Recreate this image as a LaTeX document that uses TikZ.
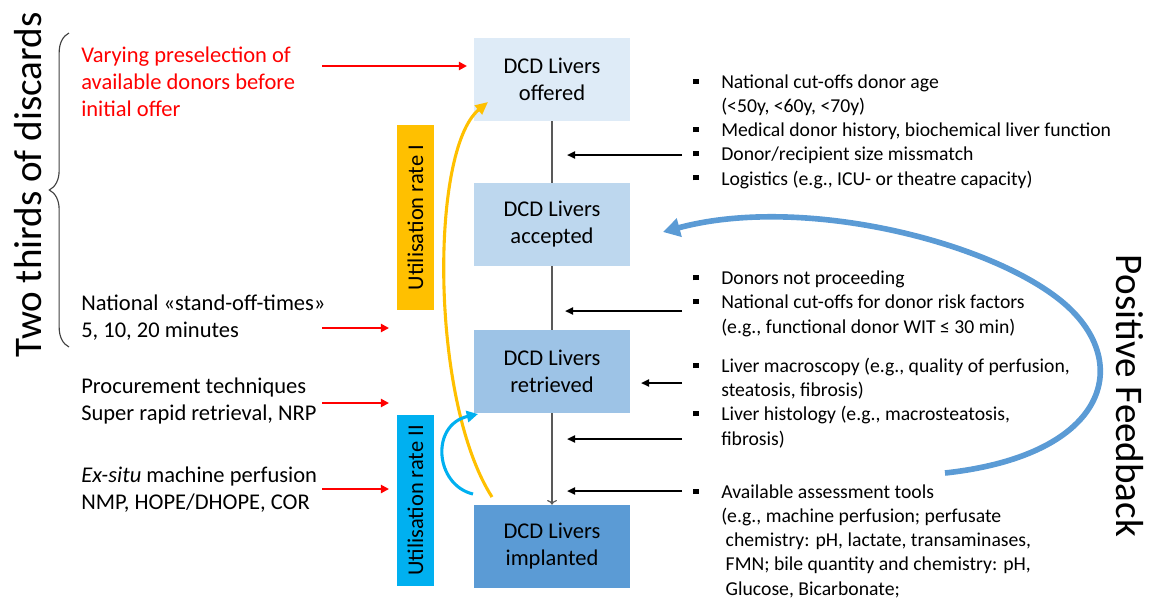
\documentclass[tikz,border=0pt]{standalone}
\usepackage{fontspec}
\setmainfont{Carlito}
\usepackage{tikz}
\usetikzlibrary{arrows,arrows.meta,shapes,positioning,decorations.pathreplacing}
\usepackage{xcolor}
\definecolor{dcdred}{RGB}{255,0,0}
\definecolor{offerfill}{RGB}{222,235,247}
\definecolor{acceptfill}{RGB}{189,215,238}
\definecolor{retrievefill}{RGB}{157,195,230}
\definecolor{implantfill}{RGB}{91,155,213}
\definecolor{rateone}{RGB}{255,192,0}
\definecolor{ratetwo}{RGB}{0,176,240}
\definecolor{feedblue}{RGB}{91,155,213}
\definecolor{flowgray}{RGB}{89,89,89}
\newcommand{\bodysize}{\fontsize{16}{19.2}\selectfont}
\newcommand{\notesize}{\fontsize{14}{17.1}\selectfont}
\newcommand{\bigsize}{\fontsize{27.8}{33}\selectfont}
\newcommand{\sqb}{\makebox[19.9pt][l]{\rule[3.3pt]{3.8pt}{3.8pt}}}
\newcommand{\cont}{\hspace*{19.9pt}}
\tikzstyle{liverbox} = [rectangle, minimum width=3.9cm, minimum height=2.075cm, text centered, align=center, font=\bodysize, inner sep=0pt]
\tikzstyle{ratebox} = [rectangle, minimum height=0.925cm, inner sep=0pt, rotate=90, font=\bodysize]
\tikzstyle{lefttext} = [anchor=base west, align=left, inner sep=0pt, font=\bodysize]
\tikzstyle{notetext} = [anchor=base west, align=left, inner sep=0pt, font=\notesize]
\tikzstyle{bigtext} = [inner sep=0pt, font=\bigsize]
\tikzstyle{redarrow} = [line width=1.4pt, dcdred, -{Triangle[length=5.7pt,width=5.7pt]}]
\tikzstyle{blackarrow} = [line width=1.4pt, black, -{Triangle[length=5.7pt,width=5pt]}]
\tikzstyle{flowline} = [line width=0.8pt, flowgray]

\begin{document}
\begin{tikzpicture}[x=0.025cm, y=-0.025cm]
\useasboundingbox (0,0) rectangle (1149,601);

% Liver boxes
\node[liverbox, fill=offerfill] (offered) at (552,79.5) {DCD Livers\\offered};
\node[liverbox, fill=acceptfill] (accepted) at (552,224.5) {DCD Livers\\accepted};
\node[liverbox, fill=retrievefill] (retrieved) at (552,371.5) {DCD Livers\\retrieved};
\node[liverbox, fill=implantfill] (implanted) at (552,546.5) {DCD Livers\\implanted};

\draw[flowline] (offered) -- (accepted);
\draw[flowline] (accepted) -- (retrieved);
\draw[flowline, ->] (retrieved) -- (implanted);

% Utilisation rates
\node[ratebox, fill=rateone, minimum width=4.625cm] (rateI) at (415.5,217.5) {Utilisation rate I};
\node[ratebox, fill=ratetwo, minimum width=4.275cm] (rateII) at (415.5,500.5) {Utilisation rate II};

% Left side
\node[bigtext, rotate=90] (discards) at (28,185) {Two thirds of discards};
\draw[line width=0.8pt, black!75, decorate, decoration={brace, amplitude=14pt}] (69,347) -- (69,33);

\node[lefttext, text=dcdred] (presel) at (81,116) {Varying preselection of\\available donors before\\initial offer};
\node[lefttext] (standoff) at (81,337) {National «stand-off-times»\\5, 10, 20 minutes};
\node[lefttext] (procure) at (81,420) {Procurement techniques\\Super rapid retrieval, NRP};
\node[lefttext] (exsitu) at (81,509) {\textit{Ex-situ} machine perfusion\\NMP, HOPE/DHOPE, COR};

\coordinate (preselA) at (322,66);
\coordinate (preselB) at (467,66);
\coordinate (standoffA) at (322,328);
\coordinate (standoffB) at (389,328);
\coordinate (procureA) at (322,403);
\coordinate (procureB) at (389,403);
\coordinate (exsituA) at (322,489);
\coordinate (exsituB) at (389,489);
\draw[redarrow] (preselA) -- (preselB);
\draw[redarrow] (standoffA) -- (standoffB);
\draw[redarrow] (procureA) -- (procureB);
\draw[redarrow] (exsituA) -- (exsituB);

% Curved arrows
\coordinate (yelstart) at (492,497);
\coordinate (yelend) at (488,102);
\draw[line width=2.2pt, rateone, -{Triangle[length=9pt,width=8pt]}] (yelstart) .. controls (430,400) and (430,150) .. (yelend);
\coordinate (cyanstart) at (473,494);
\coordinate (cyanend) at (478,414);
\draw[line width=2.2pt, ratetwo, -{Triangle[length=8pt,width=8pt]}] (cyanstart) .. controls (435,485) and (430,425) .. (cyanend);

% Right side notes
\node[notetext] (cutoffs) at (693,185) {\sqb National cut-offs donor age\\
\cont(<50y, <60y, <70y)\\
\sqb Medical donor history, biochemical liver function\\
\sqb Donor/recipient size missmatch\\
\sqb Logistics (e.g., ICU- or theatre capacity)};
\node[notetext] (riskfac) at (693,333) {\sqb Donors not proceeding\\
\sqb National cut-offs for donor risk factors\\
\cont(e.g., functional donor WIT ≤ 30 min)};
\node[notetext] (macro) at (693,445) {\sqb Liver macroscopy (e.g., quality of perfusion,\\
\cont steatosis, fibrosis)\\
\sqb Liver histology (e.g., macrosteatosis,\\
\cont fibrosis)};
\node[notetext] (tools) at (693,595) {\sqb Available assessment tools\\
\cont(e.g., machine perfusion; perfusate\\
\cont\ chemistry: pH, lactate, transaminases,\\
\cont\ FMN; bile quantity and chemistry: pH,\\
\cont\ Glucose, Bicarbonate;};

\coordinate (noteA) at (682,155);
\coordinate (lineA) at (567,155);
\coordinate (noteB) at (682,311);
\coordinate (lineB) at (565,311);
\coordinate (noteC) at (682,383);
\coordinate (lineC) at (641,383);
\coordinate (noteD) at (682,439);
\coordinate (lineD) at (567,439);
\coordinate (noteE) at (682,491);
\coordinate (lineE) at (567,491);
\draw[blackarrow] (noteA) -- (lineA);
\draw[blackarrow] (noteB) -- (lineB);
\draw[blackarrow] (noteC) -- (lineC);
\draw[blackarrow] (noteD) -- (lineD);
\draw[blackarrow] (noteE) -- (lineE);

% Feedback
\node[bigtext, rotate=-90] (feedback) at (1130,396) {Positive Feedback};
\coordinate (feedstart) at (945,473);
\coordinate (feedend) at (663,232);
\draw[line width=4pt, feedblue, -{Triangle[length=12pt,width=13pt]}] (feedstart) .. controls (1110,455) and (1135,360) .. (1060,300) .. controls (985,240) and (800,195) .. (feedend);
\end{tikzpicture}
\end{document}
